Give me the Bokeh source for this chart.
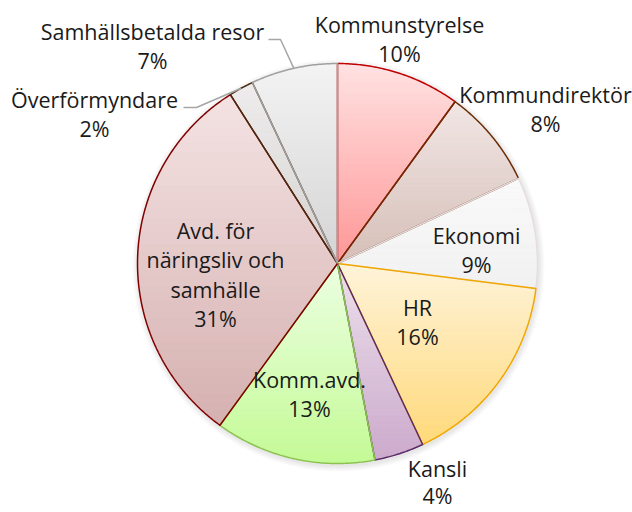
import numpy as np
from bokeh.plotting import figure
from bokeh.models import Range1d
from bokeh.embed import file_html
from bokeh.resources import INLINE
from bokeh.core.properties import value

# ---------------- data ----------------
categories = ["Kommunstyrelse", "Kommundirektör", "Ekonomi", "HR", "Kansli",
              "Komm.avd.", "Avd. för näringsliv och samhälle", "Överförmyndare",
              "Samhällsbetalda resor"]
shares = [10, 8, 9, 16, 4, 13, 31, 2, 7]
label_lines = [["Kommunstyrelse"], ["Kommundirektör"], ["Ekonomi"], ["HR"], ["Kansli"],
               ["Komm.avd."], ["Avd. för", "näringsliv och", "samhälle"],
               ["Överförmyndare"], ["Samhällsbetalda resor"]]

# ---------------- styles / layout ----------------
top_colors = [(255, 226, 226), (241, 231, 229), (250, 250, 250), (255, 244, 218),
              (236, 224, 236), (236, 255, 226), (244, 227, 227), (238, 236, 236),
              (243, 243, 243)]
bottom_colors = [(255, 150, 150), (214, 190, 184), (241, 241, 241), (255, 217, 122),
                 (204, 170, 204), (196, 250, 150), (214, 176, 176), (214, 210, 210),
                 (212, 212, 212)]
border_colors = ["#C00000", "#6B2C05", "#E6DEDE", "#F0A800", "#5A2A6A",
                 "#8CC152", "#800000", "#4A2A10", "#A0A0A0"]
# label anchor (centre x, first baseline y) in page pixels
label_pos = [(399, 32), (545, 102), (476, 243), (417, 315), (437, 476),
             (309, 387), (215, 238), (94, 107), (152, 39)]
line_steps = [29.5, 29.5, 29.5, 29.5, 27, 29.5, 29.5, 29.5, 29.5]
baseline_fix = -8.5
# leader lines: elbow points in page pixels (end point computed from slice)
leaders = {7: [(183, 107), (196, 107)], 8: [(268, 39), (280, 39)]}

W, H = 632, 512
CX, CY_IMG, R = 337, 263, 200


def Y(yimg):
    return H - yimg


CY = Y(CY_IMG)

p = figure(width=W, height=H, output_backend="svg", toolbar_location=None,
           x_range=Range1d(0, W), y_range=Range1d(0, H),
           x_axis_type=None, y_axis_type=None, min_border=0)
p.outline_line_color = None
p.grid.visible = False
p.background_fill_color = "white"
p.border_fill_color = "white"

# soft shadow
for k in range(6, 0, -1):
    p.circle(x=[CX + 1], y=[CY - 2], radius=R + k, fill_color="#808080",
             fill_alpha=0.035, line_color=None)


def clip_half(poly, yc, keep_above):
    out = []
    n = len(poly)
    for i in range(n):
        cur, prev = poly[i], poly[i - 1]
        cin = cur[1] >= yc if keep_above else cur[1] <= yc
        pin = prev[1] >= yc if keep_above else prev[1] <= yc
        if cin:
            if not pin:
                t = (yc - prev[1]) / (cur[1] - prev[1])
                out.append((prev[0] + t * (cur[0] - prev[0]), yc))
            out.append(cur)
        elif pin:
            t = (yc - prev[1]) / (cur[1] - prev[1])
            out.append((prev[0] + t * (cur[0] - prev[0]), yc))
    return out


def hexc(c):
    return "#%02x%02x%02x" % tuple(int(round(v)) for v in c)


total = float(sum(shares))
cum = np.concatenate([[0], np.cumsum(shares)]) / total
polys = []
for i in range(len(shares)):
    a0, a1 = cum[i] * 2 * np.pi, cum[i + 1] * 2 * np.pi
    n = max(4, int((a1 - a0) / np.radians(0.5)))
    angs = np.linspace(a0, a1, n)
    pts = [(CX, CY)] + [(CX + R * np.sin(a), CY + R * np.cos(a)) for a in angs]
    polys.append(pts)

# gradient fill: horizontal bands per slice
for i, pts in enumerate(polys):
    ys = [q[1] for q in pts]
    ymin, ymax = min(ys), max(ys)
    N = 40
    bxs, bys, cols = [], [], []
    edges = np.linspace(ymax, ymin, N + 1)
    for j in range(N):
        yt, yb = edges[j], edges[j + 1]
        c = clip_half(clip_half(pts, yb, True), yt, False)
        if len(c) < 3:
            continue
        t = (j + 0.5) / N
        col = [top_colors[i][k] + t * (bottom_colors[i][k] - top_colors[i][k]) for k in range(3)]
        bxs.append([q[0] for q in c])
        bys.append([q[1] for q in c])
        cols.append(hexc(col))
    p.patches(bxs, bys, fill_color=cols, line_color=cols, line_width=0.7)

# slice borders
for i, pts in enumerate(polys):
    p.patch([q[0] for q in pts], [q[1] for q in pts], fill_color=None,
            line_color=border_colors[i], line_width=1.5)

# leader lines
for i, elbow in leaders.items():
    am = (cum[i] + cum[i + 1]) / 2 * 2 * np.pi
    ex, ey = CX + R * np.sin(am), CY + R * np.cos(am)
    xs = [e[0] for e in elbow] + [ex]
    ys = [Y(e[1]) for e in elbow] + [ey]
    p.line(xs, ys, line_color="#A6A6A6", line_width=1.5)

# labels
for i, lines in enumerate(label_lines):
    lx, ly = label_pos[i]
    texts = lines + ["%d%%" % round(shares[i] / total * 100)]
    p.text(x=[lx] * len(texts),
           y=[Y(ly + baseline_fix + k * line_steps[i]) for k in range(len(texts))],
           text=texts, text_font=value("Open Sans"), text_font_size="21.5px",
           text_align="center", text_baseline="alphabetic", text_color="#1a1a1a")

open("out.html", "w").write(file_html(p, INLINE))
